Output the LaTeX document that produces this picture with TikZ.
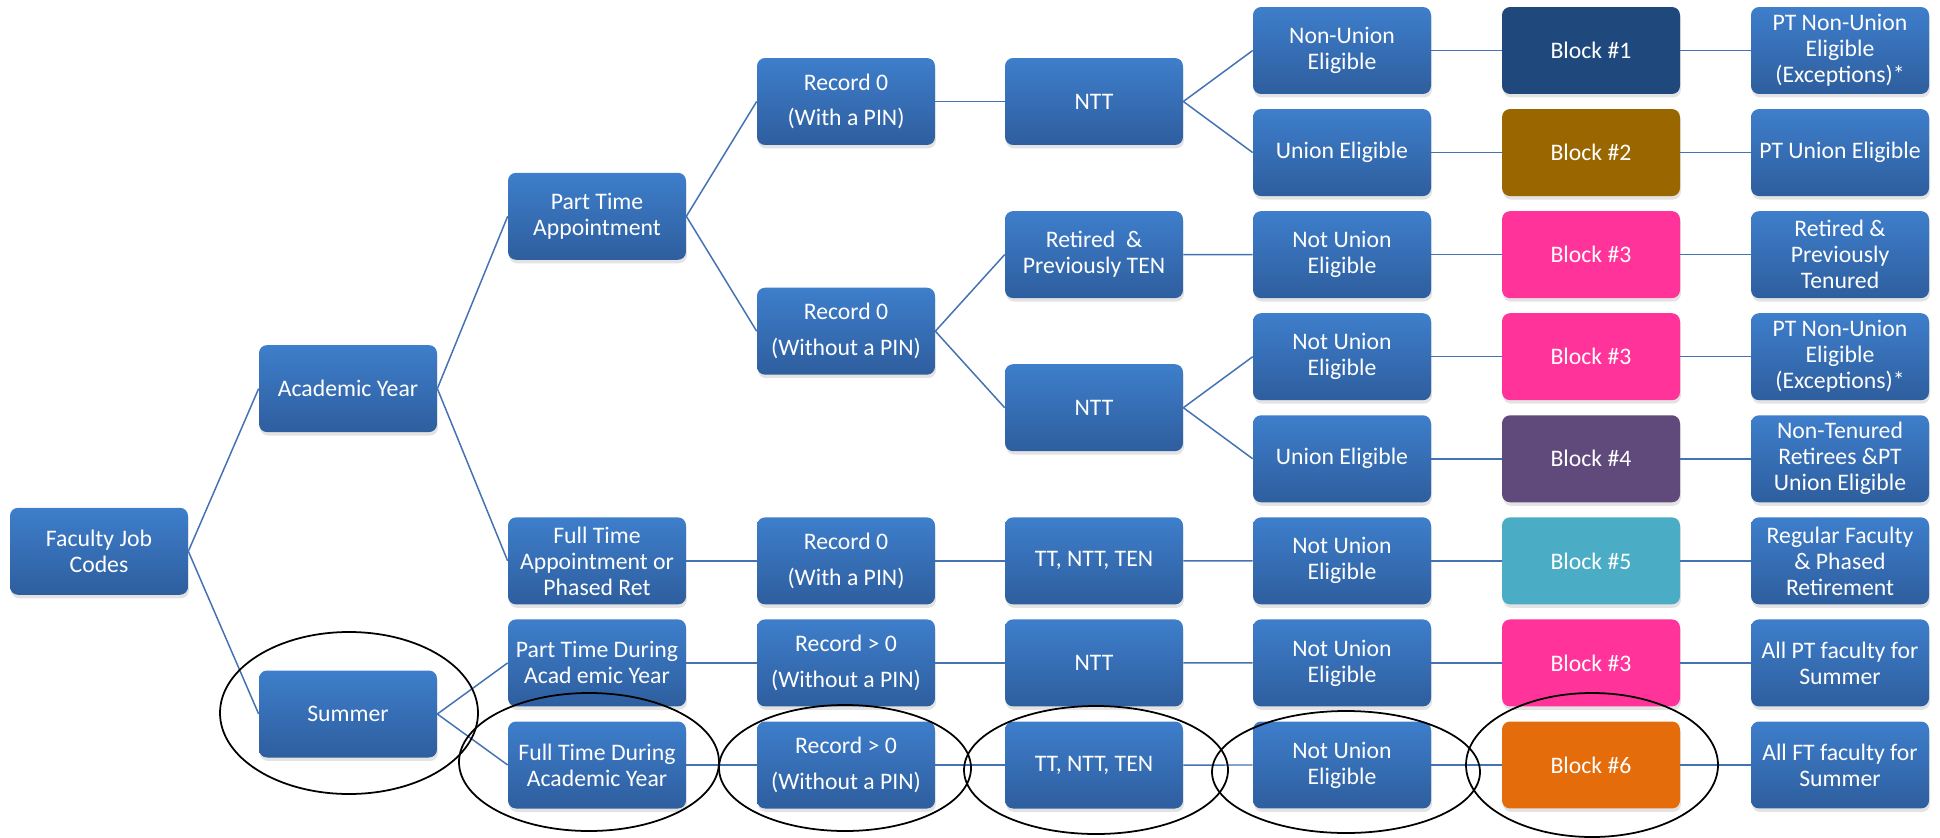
\documentclass[tikz,border=0pt]{standalone}
\usepackage{fontspec}
\setmainfont{Carlito}
\usepackage{tikz}
\usetikzlibrary{shadows}

\definecolor{boxtop}{HTML}{3E7ECB}
\definecolor{boxbot}{HTML}{2E5E9E}
\definecolor{linecol}{HTML}{4472B2}
\definecolor{blockone}{HTML}{1F497D}
\definecolor{blocktwo}{HTML}{996600}
\definecolor{blockthree}{HTML}{FF3399}
\definecolor{blockfour}{HTML}{604A7B}
\definecolor{blockfive}{HTML}{4BACC6}
\definecolor{blocksix}{HTML}{E46C0A}

\begin{document}
\begin{tikzpicture}[x=0.02cm, y=-0.02cm,
        base/.style={rounded corners=0.16cm, minimum width=3.56cm, minimum height=1.74cm, inner sep=1pt,
          align=center, text=white, font=\fontsize{13.5}{14.8}\selectfont,
          drop shadow={opacity=0.22, shadow xshift=0.02cm, shadow yshift=-0.07cm}},
        box/.style={base, top color=boxtop, bottom color=boxbot},
        blk/.style={base, fill=#1},
        link/.style={draw=linecol, line width=0.85pt},
        ring/.style={draw=black, line width=1pt},
      ]
        \useasboundingbox (0,0) rectangle (1940,838);

        % root and first split
        \node[box] (fjc) at (99, 551.3) {Faculty Job\\Codes};
        \node[box] (ay) at (348, 388.6) {Academic Year};
        \node[box] (sum) at (348, 714) {Summer};

        % appointment type
        \node[box] (pta) at (597, 216.3) {Part Time\\Appointment};
        \node[box] (fta) at (597, 560.9) {Full Time\\Appointment or\\Phased Ret};
        \node[box] (ptd) at (597, 662.9) {Part Time During\\Acad emic Year};
        \node[box] (ftd) at (597, 765) {Full Time During\\Academic Year};

        % records
        \node[box] (rec0a) at (846, 101.5) {Record 0\\[5.5pt](With a PIN)};
        \node[box] (rec0b) at (846, 331.2) {Record 0\\[5.5pt](Without a PIN)};
        \node[box] (rec0c) at (846, 560.9) {Record 0\\[5.5pt](With a PIN)};
        \node[box] (recga) at (846, 662.9) {Record > 0\\[5.5pt](Without a PIN)};
        \node[box] (recgb) at (846, 765) {Record > 0\\[5.5pt](Without a PIN)};

        % tenure status
        \node[box] (ntta) at (1094, 101.5) {NTT};
        \node[box] (ret) at (1094, 254.6) {Retired\ \ \&\\Previously TEN};
        \node[box] (nttb) at (1094, 407.7) {NTT};
        \node[box] (tta) at (1094, 560.9) {TT, NTT, TEN};
        \node[box] (nttc) at (1094, 662.9) {NTT};
        \node[box] (ttb) at (1094, 765) {TT, NTT, TEN};

        % eligibility, blocks and groups
        \foreach \i/\elig/\bcol/\bnum/\desc in {
            0/{Non-Union\\Eligible}/blockone/1/{PT Non-Union\\Eligible\\(Exceptions)*},
            1/{Union Eligible}/blocktwo/2/{PT Union Eligible},
            2/{Not Union\\Eligible}/blockthree/3/{Retired \&\\Previously\\Tenured},
            3/{Not Union\\Eligible}/blockthree/3/{PT Non-Union\\Eligible\\(Exceptions)*},
            4/{Union Eligible}/blockfour/4/{Non-Tenured\\Retirees \&PT\\Union Eligible},
            5/{Not Union\\Eligible}/blockfive/5/{Regular Faculty\\\& Phased\\Retirement},
            6/{Not Union\\Eligible}/blockthree/3/{All PT faculty for\\Summer},
            7/{Not Union\\Eligible}/blocksix/6/{All FT faculty for\\Summer}} {
          \node[box] (elig\i) at (1342, 50.5+102.07*\i) {\elig};
          \node[blk=\bcol] (blk\i) at (1591, 50.5+102.07*\i) {Block \#\bnum};
          \node[box] (desc\i) at (1840, 50.5+102.07*\i) {\desc};
          \draw[link] (elig\i) -- (blk\i);
          \draw[link] (blk\i) -- (desc\i);
        }

        % tree links
        \draw[link] (fjc.east) -- (ay.west);
        \draw[link] (fjc.east) -- (sum.west);
        \draw[link] (ay.east) -- (pta.west);
        \draw[link] (ay.east) -- (fta.west);
        \draw[link] (sum.east) -- (ptd.west);
        \draw[link] (sum.east) -- (ftd.west);
        \draw[link] (pta.east) -- (rec0a.west);
        \draw[link] (pta.east) -- (rec0b.west);
        \draw[link] (fta) -- (rec0c);
        \draw[link] (ptd) -- (recga);
        \draw[link] (ftd) -- (recgb);
        \draw[link] (rec0a) -- (ntta);
        \draw[link] (rec0b.east) -- (ret.west);
        \draw[link] (rec0b.east) -- (nttb.west);
        \draw[link] (rec0c) -- (tta);
        \draw[link] (recga) -- (nttc);
        \draw[link] (recgb) -- (ttb);
        \draw[link] (ntta.east) -- (elig0.west);
        \draw[link] (ntta.east) -- (elig1.west);
        \draw[link] (ret) -- (elig2);
        \draw[link] (nttb.east) -- (elig3.west);
        \draw[link] (nttb.east) -- (elig4.west);
        \draw[link] (tta) -- (elig5);
        \draw[link] (nttc) -- (elig6);
        \draw[link] (ttb) -- (elig7);

        % marked path
        \draw[ring] (349, 713) ellipse [x radius=129, y radius=81];
        \draw[ring] (589, 762) ellipse [x radius=130, y radius=69];
        \draw[ring] (845, 768) ellipse [x radius=126, y radius=63];
        \draw[ring] (1096, 770) ellipse [x radius=132, y radius=64];
        \draw[ring] (1346, 772) ellipse [x radius=134, y radius=61];
        \draw[ring] (1592, 765) ellipse [x radius=126, y radius=72];
      \end{tikzpicture}
\end{document}
